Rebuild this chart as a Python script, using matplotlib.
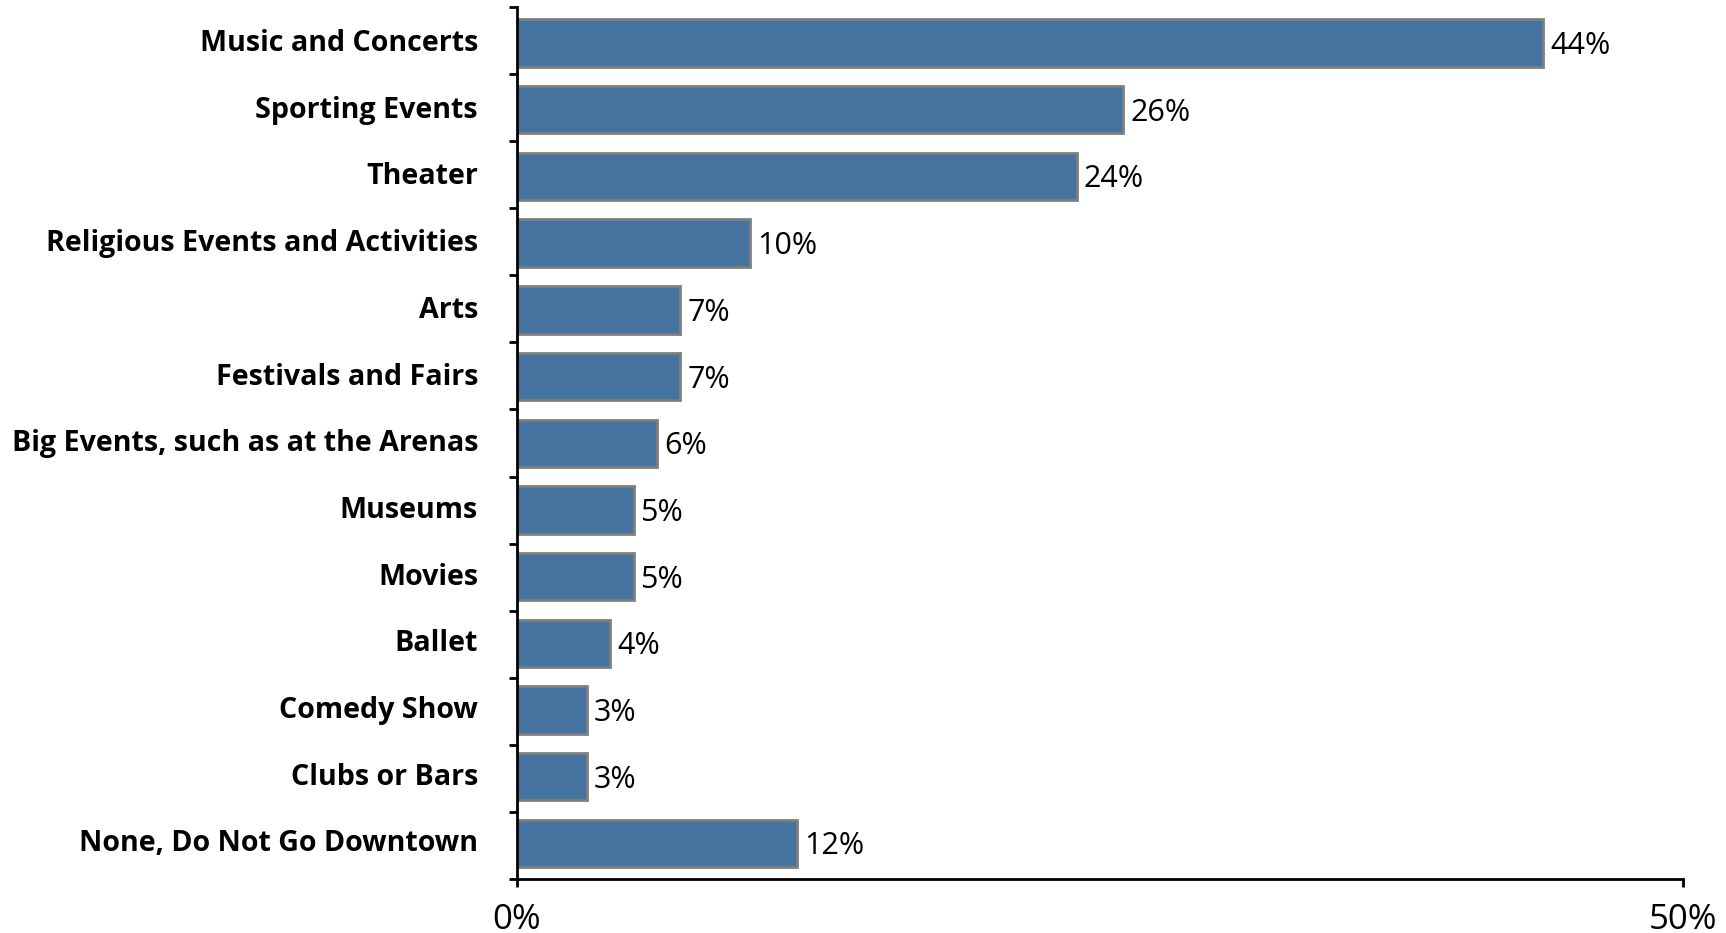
"""Downtown activities chart: share of respondents by activity, horizontal bars."""

import matplotlib
matplotlib.use("Agg")
import matplotlib.pyplot as plt
import matplotlib.transforms as mtransforms
from matplotlib.ticker import FixedLocator

activities = [
    "Music and Concerts",
    "Sporting Events",
    "Theater",
    "Religious Events and Activities",
    "Arts",
    "Festivals and Fairs",
    "Big Events, such as at the Arenas",
    "Museums",
    "Movies",
    "Ballet",
    "Comedy Show",
    "Clubs or Bars",
    "None, Do Not Go Downtown",
]
shares = [44, 26, 24, 10, 7, 7, 6, 5, 5, 4, 3, 3, 12]
x_ticks = [0, 50]
x_tick_labels = ["0%", "50%"]

BAR_COLOR = "#44739f"
EDGE_COLOR = "#7f7f7f"

plt.rcParams["font.family"] = ["Open Sans", "DejaVu Sans"]

fig = plt.figure(figsize=(17.26, 9.33), dpi=100)
ax = fig.add_axes([0.2995, 0.0579, 0.9750 - 0.2995, 0.9925 - 0.0579])

n = len(activities)
pos = list(range(n))
ax.barh(pos, shares, height=0.71, color=BAR_COLOR, edgecolor=EDGE_COLOR, linewidth=2)

# value labels, nudged down a little so the digits sit on the bar centre
value_shift = mtransforms.ScaledTranslation(0, -3 / 100, fig.dpi_scale_trans)
for y, v in zip(pos, shares):
    ax.text(v + 0.3, y, f"{v}%", va="center", ha="left", fontsize=22,
            color="black", transform=ax.transData + value_shift)

# bars sit a touch tighter than the category slots
y_top, y_bottom = -0.540, 12.532
ax.set_xlim(0, 50)
ax.set_ylim(y_bottom, y_top)

# category labels sit between boundary tick marks
step = (y_bottom - y_top) / n
ax.set_yticks(pos)
ax.set_yticklabels(activities, fontsize=20.6, fontweight="bold")
ax.yaxis.set_minor_locator(FixedLocator([y_top + k * step for k in range(n + 1)]))
ax.tick_params(axis="y", which="major", length=0, pad=28)
ax.tick_params(axis="y", which="minor", length=6, width=2, direction="out")
label_shift = mtransforms.ScaledTranslation(0, 3 / 100, fig.dpi_scale_trans)
for lab in ax.get_yticklabels():
    lab.set_transform(lab.get_transform() + label_shift)

ax.set_xticks(x_ticks)
ax.set_xticklabels(x_tick_labels, fontsize=25)
ax.tick_params(axis="x", length=6, width=2, pad=11)

for side in ("top", "right"):
    ax.spines[side].set_visible(False)
for side in ("left", "bottom"):
    ax.spines[side].set_linewidth(2)

fig.savefig("out.png", dpi=100)
